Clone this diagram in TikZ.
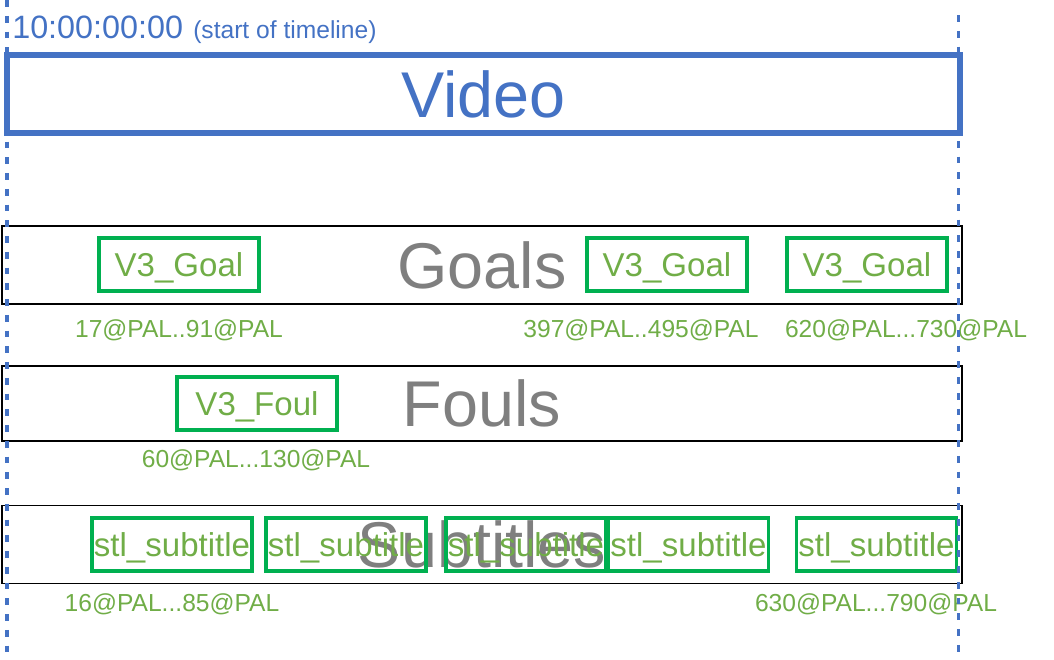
\documentclass[tikz,border=0pt]{standalone}
\usepackage{fontspec}
\setmainfont{Liberation Sans}
\definecolor{tlblue}{HTML}{4472C4}
\definecolor{clipgreen}{HTML}{00B050}
\definecolor{cliptext}{HTML}{70AD47}
\definecolor{trackgray}{HTML}{7F7F7F}
\begin{document}
\begin{tikzpicture}[
        x=0.025cm, y=-0.025cm,
        track/.style={draw=black, line width=1.1pt, minimum width=24cm, minimum height=1.95cm, inner sep=0pt,
            text=trackgray, font=\fontsize{46}{50}\selectfont},
        clipbox/.style={draw=clipgreen, line width=2.3pt, minimum width=4cm, minimum height=1.325cm, inner sep=0pt,
            text depth=0pt, text=cliptext, font=\fontsize{23.5}{26}\selectfont},
        rangelabel/.style={anchor=base, inner sep=0pt, text=cliptext, font=\fontsize{17.5}{20}\selectfont},
        marker/.style={tlblue, line width=2.35pt, dash pattern=on 4.8pt off 6.4pt}
    ]
        \useasboundingbox (0,0) rectangle (1054,659);

        % Timeline start
        \node[anchor=base west, inner sep=0pt, text=tlblue, font=\fontsize{23}{26}\selectfont] (tc) at (12,38) {10:00:00:00};
        \node[anchor=base west, inner sep=0pt, text=tlblue, font=\fontsize{17.5}{20}\selectfont] (tcnote) at (193,38) {(start of timeline)};

        % Video track
        \node[draw=tlblue, line width=4pt, minimum width=23.83cm, minimum height=1.95cm, inner sep=0pt,
            text=tlblue, font=\fontsize{46}{50}\selectfont] (video) at (483.5,94) {Video};

        % Event tracks
        \node[track] (goals) at (482,265) {Goals};
        \node[track, minimum height=1.875cm] (fouls) at (482,403.5) {Fouls};
        \node[track] (subs) at (482,544.5) {Subtitles};

        % Clips
        \node[clipbox] (goal1) at (179,264.5) {V3\_Goal};
        \node[clipbox] (goal2) at (667,264.5) {V3\_Goal};
        \node[clipbox] (goal3) at (867,264.5) {V3\_Goal};
        \node[clipbox] (foul1) at (257,403.5) {V3\_Foul};
        \node[clipbox] (sub1) at (172,544.5) {stl\_subtitle};
        \node[clipbox] (sub2) at (346,544.5) {stl\_subtitle};
        \node[clipbox] (sub3) at (526,544.5) {stl\_subtitle};
        \node[clipbox] (sub4) at (688.5,544.5) {stl\_subtitle};
        \node[clipbox] (sub5) at (876.5,544.5) {stl\_subtitle};

        % Ranges
        \node[rangelabel] (r1) at (179,337) {17@PAL..91@PAL};
        \node[rangelabel] (r2) at (641,337) {397@PAL..495@PAL};
        \node[rangelabel] (r3) at (906,337) {620@PAL...730@PAL};
        \node[rangelabel] (r4) at (256,467) {60@PAL...130@PAL};
        \node[rangelabel] (r5) at (172,611) {16@PAL...85@PAL};
        \node[rangelabel] (r6) at (876,611) {630@PAL...790@PAL};

        % Timeline bounds
        \coordinate (starttop) at (7,0);
        \coordinate (startbot) at (7,659);
        \coordinate (endtop) at (958.5,15);
        \coordinate (endbot) at (958.5,659);
        \draw[marker] (starttop) -- (startbot);
        \draw[marker] (endtop) -- (endbot);
    \end{tikzpicture}
\end{document}
